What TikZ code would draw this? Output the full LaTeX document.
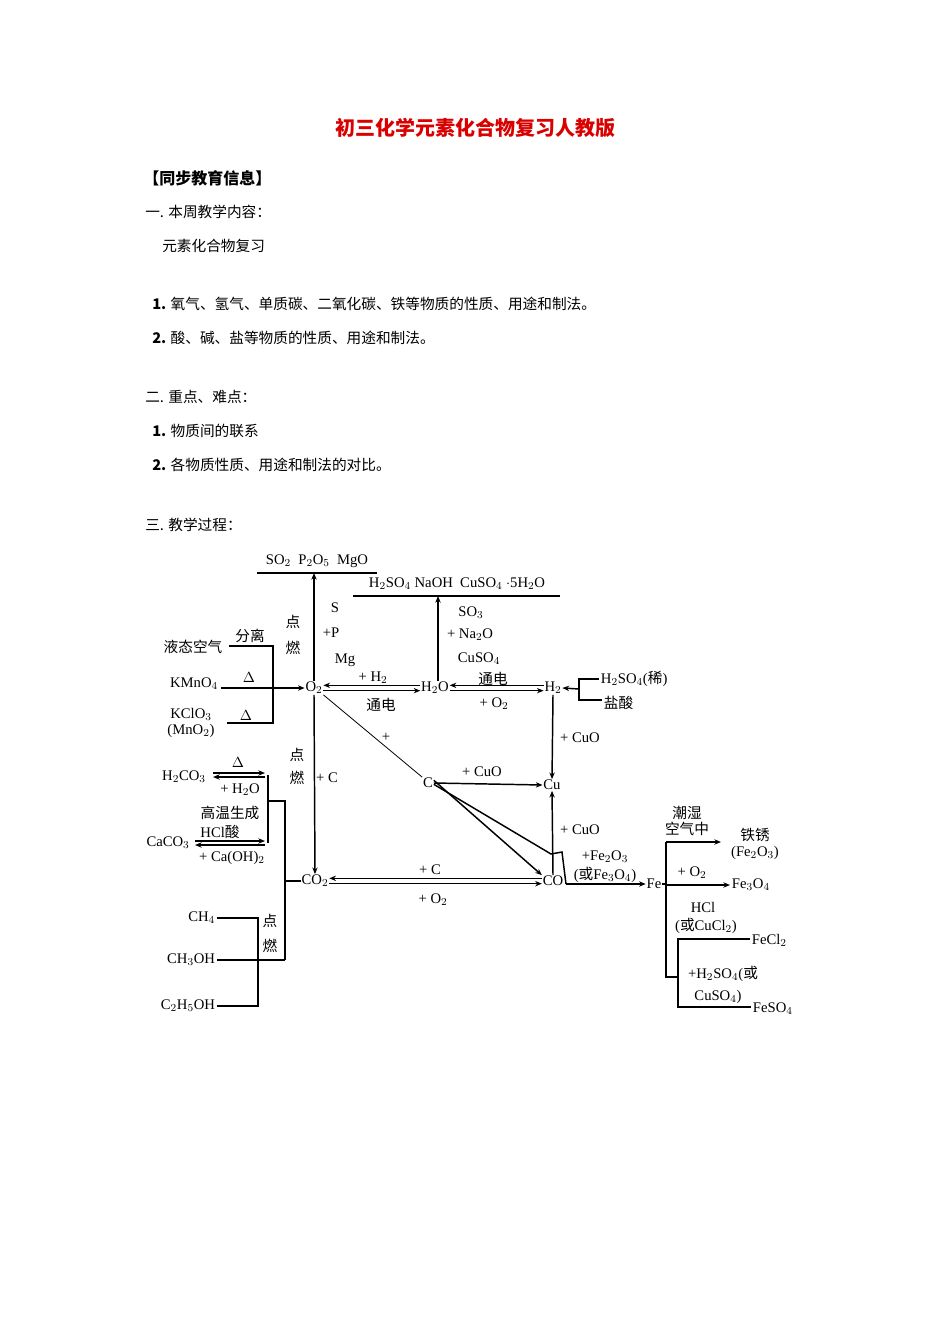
\documentclass[tikz,border=0pt]{standalone}
\usepackage{fontspec}
\setmainfont{Liberation Serif}
\newfontfamily\cjk{Noto Sans CJK SC}
\usetikzlibrary{arrows.meta}
\begin{document}
\begin{tikzpicture}[x=0.75pt,y=-0.75pt,
  ln/.style={line width=1.1pt},
  ar/.style={line width=1.1pt,-{Stealth[length=5pt,width=4pt]}},
  tn/.style={line width=0.6pt},
  lb/.style={font=\fontsize{11}{12}\selectfont,inner sep=0.5pt},
  ck/.style={font=\cjk\fontsize{11}{12}\selectfont,inner sep=0.5pt},
  bd/.style={font=\cjk\fontsize{11}{13}\selectfont,anchor=west,inner sep=0}]
\useasboundingbox (0,0) rectangle (950,1344);
% header
\node[font=\cjk\bfseries\fontsize{15}{17}\selectfont,text=red!85!black] (title) at (475,128) {初三化学元素化合物复习人教版};
\node[bd,font=\cjk\bfseries\fontsize{12}{14}\selectfont] (t1) at (143,178) {【同步教育信息】};
\node[bd] (t2) at (145,212) {一. 本周教学内容：};
\node[bd] (t3) at (162,246) {元素化合物复习};
\node[bd] (t4) at (152,304) {\textbf{1.} 氧气、氢气、单质碳、二氧化碳、铁等物质的性质、用途和制法。};
\node[bd] (t5) at (152,338) {\textbf{2.} 酸、碱、盐等物质的性质、用途和制法。};
\node[bd] (t6) at (145,397) {二. 重点、难点：};
\node[bd] (t7) at (152,431) {\textbf{1.} 物质间的联系};
\node[bd] (t8) at (152,465) {\textbf{2.} 各物质性质、用途和制法的对比。};
\node[bd] (t9) at (145,525) {三. 教学过程：};
% main nodes
\node[lb] (O2) at (314,688) {O$_2$};
\node[lb] (H2O) at (435,688) {H$_2$O};
\node[lb] (H2) at (553,688) {H$_2$};
\node[lb] (C) at (428,783) {C};
\node[lb] (Cu) at (552,785) {Cu};
\node[lb] (CO2) at (315,881) {CO$_2$};
\node[lb] (CO) at (553,881) {CO};
\node[lb] (Fe) at (654,884) {Fe};
% top products
\node[lb] (top1) at (317,561) {SO$_2$\ \ P$_2$O$_5$\ \ MgO};
\draw[ln] (257,573) -- (377,573);
\draw[ar] (O2.north) -- (314,573);
\node[ck] (dr1) at (293,622) {点}; \node[ck] (dr2) at (293,648) {燃};
\node[lb] (S) at (335,608) {S}; \node[lb] (P) at (331,633) {+P}; \node[lb] (Mg) at (345,660) {Mg};
\node[lb] (top2) at (457,584) {H$_2$SO$_4$ NaOH\ \ CuSO$_4$ $\cdot$5H$_2$O};
\draw[ln] (353,596) -- (560,596);
\draw[ar] (H2O.north) ++(3,0) -- (438,596);
\node[lb] (SO3) at (471,613) {SO$_3$}; \node[lb] (Na2O) at (470,635) {+ Na$_2$O}; \node[lb] (CuSO4) at (479,659) {CuSO$_4$};
% O2 <-> H2O
\draw[ar] ([yshift=-2]O2.east) -- ([yshift=-2]H2O.west);
\draw[ar] ([yshift=2]H2O.west) -- ([yshift=2]O2.east);
\node[lb] (pH2) at (373,678) {+ H$_2$}; \node[ck] (td1) at (381,705) {通电};
% H2O <-> H2
\draw[ar] ([yshift=-2]H2O.east) -- ([yshift=-2]H2.west);
\draw[ar] ([yshift=2]H2.west) -- ([yshift=2]H2O.east);
\node[ck] (td2) at (493,679) {通电}; \node[lb] (pO2) at (494,704) {+ O$_2$};
% acids to H2
\node[lb,anchor=west] (hs) at (600,679) {H$_2$SO$_4$(\cjk 稀\rmfamily)};
\node[ck,anchor=west] (ys) at (603,703) {盐酸};
\draw[ln] (599,679) -- (579,679) -- (579,700) -- (602,700);
\draw[ar] (579,689) -- (H2.east);
% H2 -> Cu
\draw[ar] (H2.south) -- (Cu.north);
\node[lb] (cuo1) at (580,738) {+ CuO};
% O2 -- C
\draw[tn] (O2.south east) -- (C.north west);
\node[lb] (plus) at (386,737) {+};
% C -> Cu
\draw[ar] (C.east) -- (Cu.west);
\node[lb] (cuo2) at (482,772) {+ CuO};
% C -> CO
\draw[ar] ([yshift=2]C.east) -- (CO.north west);
\draw[ln] ([yshift=-1]C.east) -- (551,854) -- (562,852) -- (566,884);
% CO -> Cu
\draw[ar] (CO.north) -- (Cu.south);
\node[lb] (cuo3) at (580,830) {+ CuO};
% CO -> Fe
\draw[ar] (566,884) -- (Fe.west);
\node[lb] (fe2o3) at (605,857) {+Fe$_2$O$_3$};
\node[lb] (fe3o4) at (605,875) {(\cjk 或\rmfamily Fe$_3$O$_4$)};
% O2 -> CO2
\draw[ar] (O2.south) -- (CO2.north);
\node[ck] (dr3) at (297,755) {点}; \node[ck] (dr4) at (297,778) {燃};
\node[lb] (pC) at (327,778) {+ C};
% CO2 <-> CO
\draw[ar] ([yshift=-2]CO2.east) -- ([yshift=-2]CO.west);
\draw[ar] ([yshift=2]CO.west) -- ([yshift=2]CO2.east);
\node[lb] (pC2) at (430,870) {+ C}; \node[lb] (pO22) at (433,900) {+ O$_2$};
% Fe branches
\coordinate (fv1) at (666,842); \coordinate (fv2) at (666,977);
\draw[ln] (Fe.east) -- (666,884);
\draw[ln] (fv1) -- (fv2) -- (678,977);
\node[lb] (rust) at (755,845) {\begin{tabular}{@{}c@{}}\cjk 铁锈\\(Fe$_2$O$_3$)\end{tabular}};
\draw[ar] (fv1) -- (721,842);
\node[ck,align=center,font=\cjk\fontsize{11}{12}\selectfont] (wet) at (687,821) {潮湿\\空气中};
\node[lb,anchor=west] (f34) at (731,885) {Fe$_3$O$_4$};
\draw[ar] (666,885) -- (730,885);
\node[lb] (pO23) at (692,873) {+ O$_2$};
\node[lb] (hcl) at (703,907) {HCl}; \node[lb] (cucl) at (706,926) {(\cjk 或\rmfamily CuCl$_2$)};
\node[lb,anchor=west] (fecl) at (751,940) {FeCl$_2$};
\node[lb,anchor=west] (feso) at (752,1009) {FeSO$_4$};
\draw[ln] (750,939) -- (678,939) -- (678,1007) -- (751,1007);
\node[lb] (h2so) at (723,974) {+H$_2$SO$_4$(\cjk 或\rmfamily};
\node[lb] (cuso) at (718,997) {CuSO$_4$)};
% left O2 sources
\node[ck] (air) at (193,647) {液态空气};
\node[lb] (kmn) at (194,684) {KMnO$_4$};
\node[lb] (kcl) at (191,723) {\begin{tabular}{@{}c@{}}KClO$_3$\\(MnO$_2$)\end{tabular}};
\draw[ln] (229,646) -- (273,646) -- (273,723) -- (227,723);
\draw[ar] (221,688) -- (O2.west);
\node[ck] (fl) at (250,636) {分离};
\node[lb] (d1) at (249,678) {$\Delta$}; \node[lb] (d2) at (246,716) {$\Delta$};
% carbonates
\node[lb] (h2co3) at (184,777) {H$_2$CO$_3$};
\node[lb] (caco3) at (168,843) {CaCO$_3$};
\draw[ar] (213,773) -- (265,773);
\draw[ar] (265,777) -- (213,777);
\node[lb] (d3) at (238,763) {$\Delta$}; \node[lb] (ph2o) at (240,790) {+ H$_2$O};
\draw[ar] (195,841) -- (265,841);
\draw[ar] (265,845) -- (195,845);
\node[ck] (gw) at (230,813) {高温生成}; \node[lb] (hclacid) at (220,832) {HCl\cjk 酸};
\node[lb] (caoh) at (232,858) {+ Ca(OH)$_2$};
\draw[ln] (268,775) -- (268,843);
\draw[ln] (268,801) -- (285,801) -- (285,960);
\draw[ln] (285,881) -- (CO2.west);
% fuels
\node[lb,anchor=east] (ch4) at (216,918) {CH$_4$};
\node[lb,anchor=east] (ch3oh) at (216,960) {CH$_3$OH};
\node[lb,anchor=east] (c2h5oh) at (216,1006) {C$_2$H$_5$OH};
\draw[ln] (217,918) -- (258,918) -- (258,1006) -- (217,1006);
\draw[ln] (217,960) -- (285,960);
\node[ck] (dr5) at (270,921) {点}; \node[ck] (dr6) at (270,946) {燃};
\end{tikzpicture}
\end{document}
